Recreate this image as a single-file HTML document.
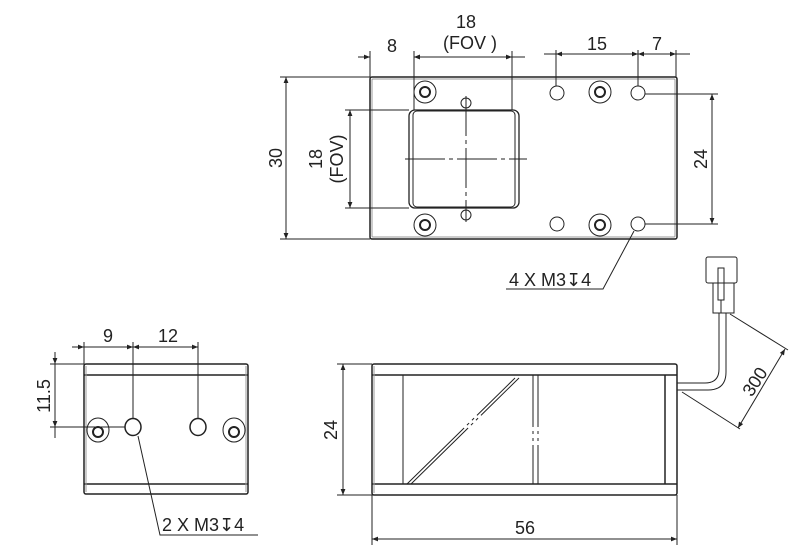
<!DOCTYPE html>
<html><head><style>
html,body{margin:0;padding:0;background:#fff;}
svg{display:block;}
text{font-family:"Liberation Sans","DejaVu Sans",sans-serif;fill:#222;font-size:18px;}
</style></head><body>
<svg width="800" height="557" viewBox="0 0 800 557" xmlns="http://www.w3.org/2000/svg">
<defs>
<marker id="a" viewBox="0 0 10 10" refX="10" refY="5" markerWidth="8" markerHeight="6" orient="auto-start-reverse" markerUnits="userSpaceOnUse"><path d="M0,1 L10,5 L0,9 z" fill="#222"/></marker>
</defs>
<g stroke="#222" fill="none" stroke-width="1">
<rect x="370" y="77" width="307" height="162" rx="2" stroke-width="1.5"/>
<rect x="372" y="79" width="303" height="158" rx="1" stroke="#999"/>
<rect x="409" y="110" width="110" height="98" rx="6" stroke-width="1.3"/>
<rect x="413" y="111" width="102" height="96" rx="4"/>
<line x1="405" y1="159" x2="527" y2="159" stroke-dasharray="40,4,4,4"/>
<line x1="466" y1="96" x2="466" y2="222" stroke-dasharray="40,4,4,4"/>
<circle cx="466" cy="103" r="5"/><circle cx="466" cy="215" r="5"/>
<circle cx="425" cy="92" r="11"/><circle cx="425" cy="92" r="5" stroke-width="2"/>
<circle cx="425" cy="225" r="11"/><circle cx="425" cy="225" r="5" stroke-width="2"/>
<circle cx="600" cy="92" r="11"/><circle cx="600" cy="92" r="5" stroke-width="2"/>
<circle cx="600" cy="225" r="11"/><circle cx="600" cy="225" r="5" stroke-width="2"/>
<circle cx="557" cy="93" r="7"/><circle cx="557" cy="224" r="7"/>
<circle cx="638" cy="93" r="7"/><circle cx="638" cy="224" r="7"/>
<line x1="370" y1="77" x2="370" y2="51"/>
<line x1="414" y1="110" x2="414" y2="51"/>
<line x1="512" y1="110" x2="512" y2="51"/>
<line x1="358" y1="57" x2="370" y2="57" marker-end="url(#a)"/>
<line x1="426" y1="57" x2="414" y2="57" marker-end="url(#a)"/>
<line x1="414" y1="57" x2="512" y2="57" marker-start="url(#a)" marker-end="url(#a)"/>
<line x1="512" y1="57" x2="525" y2="57"/>
<line x1="556" y1="86" x2="556" y2="50"/>
<line x1="638" y1="86" x2="638" y2="50"/>
<line x1="676" y1="77" x2="676" y2="50"/>
<line x1="544" y1="54" x2="556" y2="54"/>
<line x1="556" y1="54" x2="638" y2="54" marker-start="url(#a)" marker-end="url(#a)"/>
<line x1="638" y1="54" x2="676" y2="54" marker-start="url(#a)" marker-end="url(#a)"/>
<line x1="676" y1="54" x2="690" y2="54"/>
<line x1="370" y1="77" x2="280" y2="77"/>
<line x1="370" y1="239" x2="280" y2="239"/>
<line x1="286" y1="77" x2="286" y2="239" marker-start="url(#a)" marker-end="url(#a)"/>
<line x1="409" y1="110" x2="345" y2="110"/>
<line x1="409" y1="208" x2="345" y2="208"/>
<line x1="350" y1="110" x2="350" y2="208" marker-start="url(#a)" marker-end="url(#a)"/>
<line x1="645" y1="94" x2="718" y2="94"/>
<line x1="645" y1="224" x2="718" y2="224"/>
<line x1="712" y1="94" x2="712" y2="224" marker-start="url(#a)" marker-end="url(#a)"/>
<polyline points="634,231 603,289 506,289"/>
<rect x="84" y="364" width="164" height="130" rx="2" stroke-width="1.5"/>
<line x1="84" y1="375" x2="248" y2="375" stroke-width="1.5"/>
<line x1="84" y1="484" x2="248" y2="484" stroke-width="1.5"/>
<line x1="86" y1="366" x2="86" y2="492" stroke="#999"/>
<line x1="246" y1="366" x2="246" y2="492" stroke="#999"/>
<ellipse cx="98" cy="430" rx="11" ry="12"/><circle cx="98" cy="432" r="5" stroke-width="2"/>
<ellipse cx="234" cy="430" rx="11" ry="12"/><circle cx="234" cy="432" r="5" stroke-width="2"/>
<ellipse cx="133" cy="427" rx="8" ry="8.5" stroke-width="1.5"/>
<ellipse cx="198" cy="427" rx="8" ry="8.5" stroke-width="1.5"/>
<line x1="84" y1="364" x2="84" y2="342"/>
<line x1="133" y1="419" x2="133" y2="342"/>
<line x1="198" y1="419" x2="198" y2="342"/>
<line x1="72" y1="347" x2="84" y2="347" marker-end="url(#a)"/>
<line x1="84" y1="347" x2="133" y2="347" marker-end="url(#a)"/>
<line x1="133" y1="347" x2="198" y2="347" marker-start="url(#a)" marker-end="url(#a)"/>
<line x1="84" y1="364" x2="50" y2="364"/>
<line x1="125" y1="427" x2="50" y2="427"/>
<line x1="55" y1="352" x2="55" y2="364" marker-end="url(#a)"/>
<line x1="55" y1="364" x2="55" y2="427" marker-end="url(#a)"/>
<line x1="55" y1="427" x2="55" y2="438"/>
<polyline points="138,436 160,535 258,535"/>
<rect x="372" y="364" width="305" height="131" rx="2" stroke-width="1.5"/>
<line x1="372" y1="375" x2="677" y2="375" stroke-width="1.5"/>
<line x1="372" y1="484" x2="677" y2="484" stroke-width="1.5"/>
<line x1="374" y1="366" x2="374" y2="493" stroke="#999"/>
<line x1="403" y1="375" x2="403" y2="484"/>
<line x1="533" y1="375" x2="533" y2="484" stroke-dasharray="52,4,3,4,3,4,100"/>
<line x1="538" y1="375" x2="538" y2="484" stroke-dasharray="52,4,3,4,3,4,100"/>
<line x1="665" y1="375" x2="665" y2="484" stroke-width="1.5"/>
<line x1="407" y1="484" x2="515" y2="378" stroke-dasharray="80,4,3,4,3,4,200"/>
<line x1="411" y1="484" x2="519" y2="378" stroke-dasharray="80,4,3,4,3,4,200"/>
<path d="M677,383 H705 Q719,383 719,369 V313"/>
<path d="M677,390 H708 Q726,390 726,372 V313"/>
<rect x="706" y="257" width="31" height="26" rx="2"/>
<rect x="713" y="283" width="21" height="30"/>
<rect x="718" y="268" width="6" height="32"/>
<line x1="721" y1="300" x2="721" y2="313"/>
<line x1="730" y1="314" x2="788" y2="350"/>
<line x1="682" y1="392" x2="740" y2="429"/>
<line x1="785" y1="349" x2="738" y2="428" marker-start="url(#a)" marker-end="url(#a)"/>
<line x1="372" y1="364" x2="337" y2="364"/>
<line x1="372" y1="495" x2="337" y2="495"/>
<line x1="343" y1="364" x2="343" y2="495" marker-start="url(#a)" marker-end="url(#a)"/>
<line x1="372" y1="495" x2="372" y2="545"/>
<line x1="677" y1="495" x2="677" y2="545"/>
<line x1="372" y1="539" x2="677" y2="539" marker-start="url(#a)" marker-end="url(#a)"/>
</g>
<text x="466" y="28" text-anchor="middle">18</text>
<text x="470" y="49" text-anchor="middle">(FOV )</text>
<text x="392" y="52" text-anchor="middle">8</text>
<text x="597" y="50" text-anchor="middle">15</text>
<text x="657" y="50" text-anchor="middle">7</text>
<text transform="translate(282,158) rotate(-90)" text-anchor="middle">30</text>
<text transform="translate(322,159) rotate(-90)" text-anchor="middle">18</text>
<text transform="translate(343,159) rotate(-90)" text-anchor="middle">(FOV)</text>
<text transform="translate(707,159) rotate(-90)" text-anchor="middle">24</text>
<text x="509" y="286">4 X M3↧4</text>
<text x="108" y="342" text-anchor="middle">9</text>
<text x="168" y="342" text-anchor="middle">12</text>
<text transform="translate(50,396) rotate(-90)" text-anchor="middle">11.5</text>
<text x="162" y="531">2 X M3↧4</text>
<text transform="translate(337,430) rotate(-90)" text-anchor="middle">24</text>
<text x="525" y="534" text-anchor="middle">56</text>
<text transform="translate(760,385) rotate(-57)" text-anchor="middle">300</text>
</svg>
</body></html>
